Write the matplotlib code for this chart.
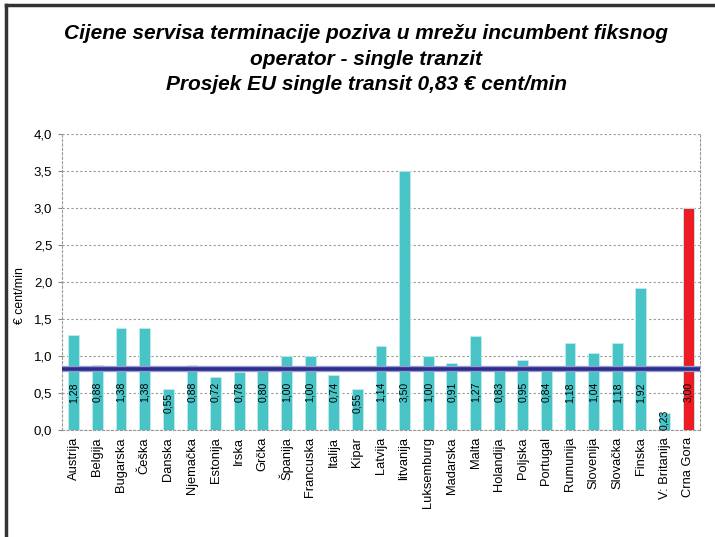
import matplotlib.pyplot as plt
from matplotlib.lines import Line2D

plt.rcParams['font.family'] = ['Liberation Sans', 'DejaVu Sans']

# Podaci
zemlje = ["Austrija", "Belgija", "Bugarska", "Češka", "Danska", "Njemačka", "Estonija",
          "Irska", "Grčka", "Španija", "Francuska", "Italija", "Kipar", "Latvija",
          "litvanija", "Luksemburg", "Madarska", "Malta", "Holandija", "Poljska",
          "Portugal", "Rumunija", "Slovenija", "Slovačka", "Finska", "V: Britanija",
          "Crna Gora"]
cijene = [1.28, 0.88, 1.38, 1.38, 0.55, 0.88, 0.72, 0.78, 0.80, 1.00, 1.00, 0.74,
          0.55, 1.14, 3.50, 1.00, 0.91, 1.27, 0.83, 0.95, 0.84, 1.18, 1.04, 1.18,
          1.92, 0.23, 3.00]
prosjek_eu = 0.83
naslov = ("Cijene servisa terminacije poziva u mrežu incumbent fiksnog\n"
          "operator - single tranzit\n"
          "Prosjek EU single transit 0,83 € cent/min")

tirkiz = "#48C4C6"
crvena = "#ED1C24"
boje = [crvena if z == "Crna Gora" else tirkiz for z in zemlje]

fig = plt.figure(figsize=(7.15, 5.37), dpi=100)
ax = fig.add_axes([0.0867, 0.199, 0.8923, 0.551])

x = list(range(len(zemlje)))
ax.bar(x, cijene, width=0.46, color=boje, edgecolor="#bfeeee", linewidth=0.6, zorder=2)

# prosjek EU
ax.axhline(prosjek_eu, color="#9a9ad0", linewidth=4.5, zorder=3)
ax.axhline(prosjek_eu, color="#2B2E8C", linewidth=2.6, zorder=4)

# oznake vrijednosti
for xi, v in zip(x, cijene):
    vrh = max(min(0.65, v - 0.05), 0.27)
    ax.text(xi, vrh, f"{v:.2f}".replace(".", ","), rotation=90, ha="center",
            va="top", fontsize=7.5, color="black", zorder=5)

ax.set_xlim(-0.5, len(zemlje) - 0.5)
ax.set_ylim(0, 4.0)
yt = [i * 0.5 for i in range(9)]
ax.set_yticks(yt)
ax.set_yticklabels([f"{t:.1f}".replace(".", ",") for t in yt], fontsize=9.5)
ax.set_xticks(x)
ax.set_xticklabels(zemlje, rotation=90, fontsize=9.3)
ax.tick_params(axis="x", length=0, pad=5)
ax.tick_params(axis="y", length=3, color="#888888", pad=4)

ax.grid(axis="y", linestyle=(0, (2, 2)), color="#999999", linewidth=0.8, zorder=0)
for s in ["left", "right", "bottom"]:
    ax.spines[s].set_linestyle((0, (2, 2)))
    ax.spines[s].set_color("#999999")
    ax.spines[s].set_linewidth(0.8)
ax.spines["top"].set_visible(False)

ax.text(-0.066, 0.456, "€ cent/min", rotation=90, transform=ax.transAxes,
        ha="center", va="center", fontsize=8.8)

fig.text(0.512, 0.89, naslov, ha="center", va="center", fontsize=15,
         fontweight="bold", fontstyle="italic", linespacing=1.45)

# okvir
fig.add_artist(Line2D([0.008, 0.008], [0.0, 0.99], transform=fig.transFigure,
                      color="#333333", linewidth=2.5))
fig.add_artist(Line2D([0.008, 1.0], [0.99, 0.99], transform=fig.transFigure,
                      color="#333333", linewidth=2.5))

fig.savefig("out.png", dpi=100)
